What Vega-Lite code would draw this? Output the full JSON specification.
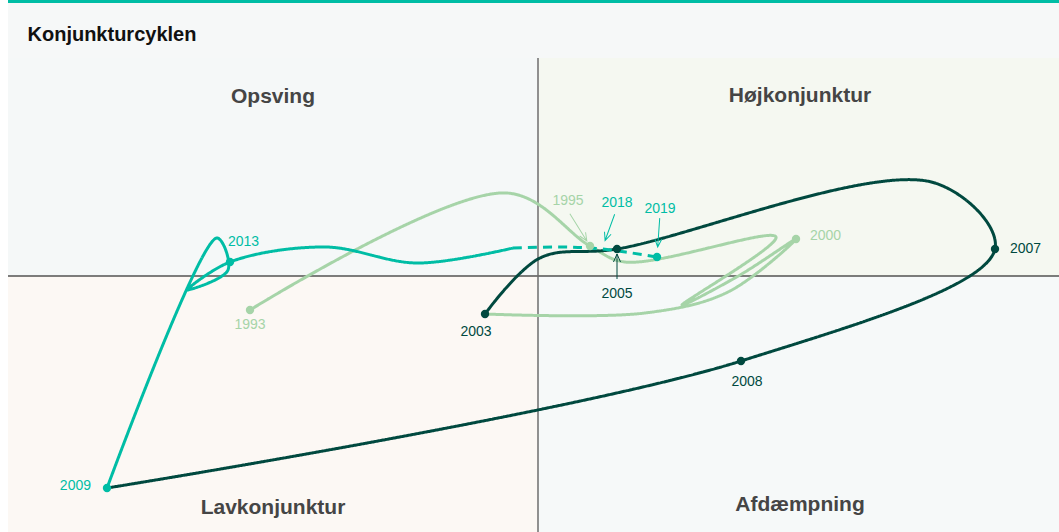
{
  "$schema": "https://vega.github.io/schema/vega-lite/v6.json",
  "width": 1051,
  "height": 474,
  "autosize": "none",
  "padding": {"left": 8, "top": 58, "right": 0, "bottom": 0},
  "background": "#ffffff",
  "title": {"text": "Konjunkturcyklen", "anchor": "start", "dx": 20, "dy": 60, "offset": 14, "fontSize": 20, "font": "Liberation Sans", "fontWeight": "bold", "color": "#111111"},
  "config": {"view": {"stroke": null}, "font": "Liberation Sans"},
  "datasets": {
    "cycle": [
      {"series": "a", "year": 1993, "x": -2.88, "y": -0.34},
      {"series": "a", "year": 1994, "x": -0.31, "y": 0.83},
      {"series": "a", "year": 1995, "x": 0.52, "y": 0.30},
      {"series": "a", "year": 1996, "x": 0.87, "y": 0.14},
      {"series": "a", "year": 1997, "x": 2.38, "y": 0.39},
      {"series": "a", "year": 1998, "x": 1.44, "y": -0.29},
      {"series": "a", "year": 1999, "x": 2.02, "y": 0.01},
      {"series": "a", "year": 2000, "x": 2.58, "y": 0.37},
      {"series": "a", "year": 2001, "x": 1.90, "y": -0.16},
      {"series": "a", "year": 2002, "x": 1.07, "y": -0.37},
      {"series": "a", "year": 2003, "x": -0.53, "y": -0.38},
      {"series": "b", "year": 2003, "x": -0.53, "y": -0.38},
      {"series": "b", "year": 2004, "x": 0.02, "y": 0.18},
      {"series": "b", "year": 2005, "x": 0.79, "y": 0.27},
      {"series": "b", "year": 2006, "x": 3.97, "y": 0.93},
      {"series": "b", "year": 2007, "x": 4.57, "y": 0.27},
      {"series": "b", "year": 2008, "x": 2.03, "y": -0.85},
      {"series": "b", "year": 2009, "x": -4.31, "y": -2.12},
      {"series": "c", "year": 2009, "x": -4.31, "y": -2.12},
      {"series": "c", "year": 2010, "x": -3.21, "y": 0.38},
      {"series": "c", "year": 2011, "x": -3.10, "y": 0.06},
      {"series": "c", "year": 2012, "x": -3.51, "y": -0.14},
      {"series": "c", "year": 2013, "x": -3.08, "y": 0.14},
      {"series": "c", "year": 2014, "x": -2.13, "y": 0.29},
      {"series": "c", "year": 2015, "x": -1.21, "y": 0.13},
      {"series": "c", "year": 2016, "x": -0.25, "y": 0.28},
      {"series": "d", "year": 2016, "x": -0.25, "y": 0.28},
      {"series": "d", "year": 2017, "x": 0.22, "y": 0.29},
      {"series": "d", "year": 2018, "x": 0.64, "y": 0.27},
      {"series": "d", "year": 2019, "x": 1.19, "y": 0.19}
    ]
  },
  "data": {"name": "cycle"},
  "layer": [
    {
      "data": {"values": [{}]},
      "mark": {"type": "rect", "color": "#f6f8f8"},
      "encoding": {
        "x": {"datum": -5.3, "type": "quantitative", "scale": {"domain": [-5.3, 5.21], "nice": false, "zero": false}, "axis": null},
        "x2": {"datum": 5.21},
        "y": {"datum": 2.18, "type": "quantitative", "scale": {"domain": [-2.56, 2.18], "nice": false, "zero": false}, "axis": null},
        "y2": {"datum": 2.73}
      }
    },
    {
      "data": {"values": [{}]},
      "mark": {"type": "rect", "color": "#00bda5"},
      "encoding": {
        "x": {"datum": -5.3, "type": "quantitative"},
        "x2": {"datum": 5.21},
        "y": {"datum": 2.73, "type": "quantitative"},
        "y2": {"datum": 2.77}
      }
    },
    {
      "data": {"values": [{}]},
      "mark": {"type": "rect", "color": "#f5f8f8"},
      "encoding": {
        "x": {"datum": -5.3, "type": "quantitative"},
        "x2": {"datum": 0},
        "y": {"datum": 0, "type": "quantitative"},
        "y2": {"datum": 2.18}
      }
    },
    {
      "data": {"values": [{}]},
      "mark": {"type": "rect", "color": "#f5f8f1"},
      "encoding": {
        "x": {"datum": 0, "type": "quantitative"},
        "x2": {"datum": 5.21},
        "y": {"datum": 0, "type": "quantitative"},
        "y2": {"datum": 2.18}
      }
    },
    {
      "data": {"values": [{}]},
      "mark": {"type": "rect", "color": "#fcf8f4"},
      "encoding": {
        "x": {"datum": -5.3, "type": "quantitative"},
        "x2": {"datum": 0},
        "y": {"datum": -2.56, "type": "quantitative"},
        "y2": {"datum": 0}
      }
    },
    {
      "data": {"values": [{}]},
      "mark": {"type": "rect", "color": "#f6f9f9"},
      "encoding": {
        "x": {"datum": 0, "type": "quantitative"},
        "x2": {"datum": 5.21},
        "y": {"datum": -2.56, "type": "quantitative"},
        "y2": {"datum": 0}
      }
    },
    {
      "data": {"values": [{}]},
      "mark": {"type": "rule", "color": "#000000", "strokeWidth": 1},
      "encoding": {"y": {"datum": 0, "type": "quantitative"}}
    },
    {
      "data": {"values": [{}]},
      "mark": {"type": "rule", "color": "#6e6e6e", "strokeWidth": 1.5},
      "encoding": {"x": {"datum": 0, "type": "quantitative"}}
    },
    {
      "data": {"values": [{}]},
      "mark": {"type": "text", "text": "Opsving", "fontSize": 21, "fontWeight": "bold", "color": "#454545", "align": "center", "baseline": "middle"},
      "encoding": {"x": {"datum": -2.65, "type": "quantitative"}, "y": {"datum": 1.79, "type": "quantitative"}}
    },
    {
      "data": {"values": [{}]},
      "mark": {"type": "text", "text": "Højkonjunktur", "fontSize": 21, "fontWeight": "bold", "color": "#454545", "align": "center", "baseline": "middle"},
      "encoding": {"x": {"datum": 2.62, "type": "quantitative"}, "y": {"datum": 1.80, "type": "quantitative"}}
    },
    {
      "data": {"values": [{}]},
      "mark": {"type": "text", "text": "Lavkonjunktur", "fontSize": 21, "fontWeight": "bold", "color": "#454545", "align": "center", "baseline": "middle"},
      "encoding": {"x": {"datum": -2.65, "type": "quantitative"}, "y": {"datum": -2.32, "type": "quantitative"}}
    },
    {
      "data": {"values": [{}]},
      "mark": {"type": "text", "text": "Afdæmpning", "fontSize": 21, "fontWeight": "bold", "color": "#454545", "align": "center", "baseline": "middle"},
      "encoding": {"x": {"datum": 2.62, "type": "quantitative"}, "y": {"datum": -2.29, "type": "quantitative"}}
    },
    {
      "mark": {"type": "line", "interpolate": "catmull-rom", "strokeWidth": 3},
      "encoding": {
        "x": {"field": "x", "type": "quantitative"},
        "y": {"field": "y", "type": "quantitative"},
        "order": {"field": "year"},
        "color": {"field": "series", "type": "nominal", "scale": {"domain": ["a", "b", "c", "d"], "range": ["#a6d4a8", "#00493f", "#00bda5", "#00bda5"]}, "legend": null},
        "strokeDash": {"field": "series", "type": "nominal", "scale": {"domain": ["a", "b", "c", "d"], "range": [[1, 0], [1, 0], [1, 0], [9, 6]]}, "legend": null}
      }
    },
    {
      "transform": [{"filter": "(datum.series=='a' && indexof([1993,1995,2000], datum.year) >= 0) || (datum.series=='b' && indexof([2003,2005,2007,2008], datum.year) >= 0) || (datum.series=='c' && indexof([2009,2013], datum.year) >= 0) || (datum.series=='d' && datum.year==2019)"}],
      "mark": {"type": "point", "filled": true, "opacity": 1, "size": 70, "shape": "circle"},
      "encoding": {
        "x": {"field": "x", "type": "quantitative"},
        "y": {"field": "y", "type": "quantitative"},
        "color": {"field": "series", "type": "nominal", "legend": null}
      }
    },
    {
      "transform": [{"filter": "datum.series=='a' && datum.year==1993"}],
      "mark": {"type": "text", "fontSize": 14, "dy": 15, "align": "center", "baseline": "middle"},
      "encoding": {"x": {"field": "x", "type": "quantitative"}, "y": {"field": "y", "type": "quantitative"}, "text": {"field": "year", "type": "nominal"}, "color": {"field": "series", "type": "nominal", "legend": null}}
    },
    {
      "transform": [{"filter": "datum.series=='a' && datum.year==1995"}],
      "mark": {"type": "text", "fontSize": 14, "dx": -22, "dy": -45, "align": "center", "baseline": "middle"},
      "encoding": {"x": {"field": "x", "type": "quantitative"}, "y": {"field": "y", "type": "quantitative"}, "text": {"field": "year", "type": "nominal"}, "color": {"field": "series", "type": "nominal", "legend": null}}
    },
    {
      "transform": [{"filter": "datum.series=='a' && datum.year==2000"}],
      "mark": {"type": "text", "fontSize": 14, "dx": 14, "dy": -3, "align": "left", "baseline": "middle"},
      "encoding": {"x": {"field": "x", "type": "quantitative"}, "y": {"field": "y", "type": "quantitative"}, "text": {"field": "year", "type": "nominal"}, "color": {"field": "series", "type": "nominal", "legend": null}}
    },
    {
      "transform": [{"filter": "datum.series=='b' && datum.year==2003"}],
      "mark": {"type": "text", "fontSize": 14, "dx": -9, "dy": 18, "align": "center", "baseline": "middle"},
      "encoding": {"x": {"field": "x", "type": "quantitative"}, "y": {"field": "y", "type": "quantitative"}, "text": {"field": "year", "type": "nominal"}, "color": {"field": "series", "type": "nominal", "legend": null}}
    },
    {
      "transform": [{"filter": "datum.series=='b' && datum.year==2005"}],
      "mark": {"type": "text", "fontSize": 14, "dy": 45, "align": "center", "baseline": "middle"},
      "encoding": {"x": {"field": "x", "type": "quantitative"}, "y": {"field": "y", "type": "quantitative"}, "text": {"field": "year", "type": "nominal"}, "color": {"field": "series", "type": "nominal", "legend": null}}
    },
    {
      "transform": [{"filter": "datum.series=='b' && datum.year==2007"}],
      "mark": {"type": "text", "fontSize": 14, "dx": 15, "dy": 0, "align": "left", "baseline": "middle"},
      "encoding": {"x": {"field": "x", "type": "quantitative"}, "y": {"field": "y", "type": "quantitative"}, "text": {"field": "year", "type": "nominal"}, "color": {"field": "series", "type": "nominal", "legend": null}}
    },
    {
      "transform": [{"filter": "datum.series=='b' && datum.year==2008"}],
      "mark": {"type": "text", "fontSize": 14, "dx": 6, "dy": 21, "align": "center", "baseline": "middle"},
      "encoding": {"x": {"field": "x", "type": "quantitative"}, "y": {"field": "y", "type": "quantitative"}, "text": {"field": "year", "type": "nominal"}, "color": {"field": "series", "type": "nominal", "legend": null}}
    },
    {
      "transform": [{"filter": "datum.series=='c' && datum.year==2009"}],
      "mark": {"type": "text", "fontSize": 14, "dx": -16, "dy": -2, "align": "right", "baseline": "middle"},
      "encoding": {"x": {"field": "x", "type": "quantitative"}, "y": {"field": "y", "type": "quantitative"}, "text": {"field": "year", "type": "nominal"}, "color": {"field": "series", "type": "nominal", "legend": null}}
    },
    {
      "transform": [{"filter": "datum.series=='c' && datum.year==2013"}],
      "mark": {"type": "text", "fontSize": 14, "dx": -2, "dy": -20, "align": "left", "baseline": "middle"},
      "encoding": {"x": {"field": "x", "type": "quantitative"}, "y": {"field": "y", "type": "quantitative"}, "text": {"field": "year", "type": "nominal"}, "color": {"field": "series", "type": "nominal", "legend": null}}
    },
    {
      "transform": [{"filter": "datum.series=='d' && datum.year==2018"}],
      "mark": {"type": "text", "fontSize": 14, "dx": 15, "dy": -46, "align": "center", "baseline": "middle"},
      "encoding": {"x": {"field": "x", "type": "quantitative"}, "y": {"field": "y", "type": "quantitative"}, "text": {"field": "year", "type": "nominal"}, "color": {"field": "series", "type": "nominal", "legend": null}}
    },
    {
      "transform": [{"filter": "datum.series=='d' && datum.year==2019"}],
      "mark": {"type": "text", "fontSize": 14, "dx": 3, "dy": -48, "align": "center", "baseline": "middle"},
      "encoding": {"x": {"field": "x", "type": "quantitative"}, "y": {"field": "y", "type": "quantitative"}, "text": {"field": "year", "type": "nominal"}, "color": {"field": "series", "type": "nominal", "legend": null}}
    },
    {
      "transform": [{"filter": "datum.series=='a' && datum.year==1995"}],
      "mark": {"type": "point", "filled": false, "strokeWidth": 1, "opacity": 1, "size": 400, "angle": 328, "shape": "M0,-3.8L0,-0.6M-0.35,-1.4L0,-0.6L0.35,-1.4"},
      "encoding": {"x": {"field": "x", "type": "quantitative"}, "y": {"field": "y", "type": "quantitative"}, "color": {"field": "series", "type": "nominal", "legend": null}}
    },
    {
      "transform": [{"filter": "datum.series=='d' && datum.year==2018"}],
      "mark": {"type": "point", "filled": false, "strokeWidth": 1, "opacity": 1, "size": 400, "angle": 20, "shape": "M0,-3.7L0,-0.9M-0.35,-1.7L0,-0.9L0.35,-1.7"},
      "encoding": {"x": {"field": "x", "type": "quantitative"}, "y": {"field": "y", "type": "quantitative"}, "color": {"field": "series", "type": "nominal", "legend": null}}
    },
    {
      "transform": [{"filter": "datum.series=='d' && datum.year==2019"}],
      "mark": {"type": "point", "filled": false, "strokeWidth": 1, "opacity": 1, "size": 400, "angle": 4, "shape": "M0,-3.9L0,-1.0M-0.35,-1.8L0,-1.0L0.35,-1.8"},
      "encoding": {"x": {"field": "x", "type": "quantitative"}, "y": {"field": "y", "type": "quantitative"}, "color": {"field": "series", "type": "nominal", "legend": null}}
    },
    {
      "transform": [{"filter": "datum.series=='b' && datum.year==2005"}],
      "mark": {"type": "point", "filled": false, "strokeWidth": 1, "opacity": 1, "size": 400, "angle": 180, "shape": "M0,-3.0L0,-0.5M-0.35,-1.3L0,-0.5L0.35,-1.3"},
      "encoding": {"x": {"field": "x", "type": "quantitative"}, "y": {"field": "y", "type": "quantitative"}, "color": {"field": "series", "type": "nominal", "legend": null}}
    }
  ]
}
